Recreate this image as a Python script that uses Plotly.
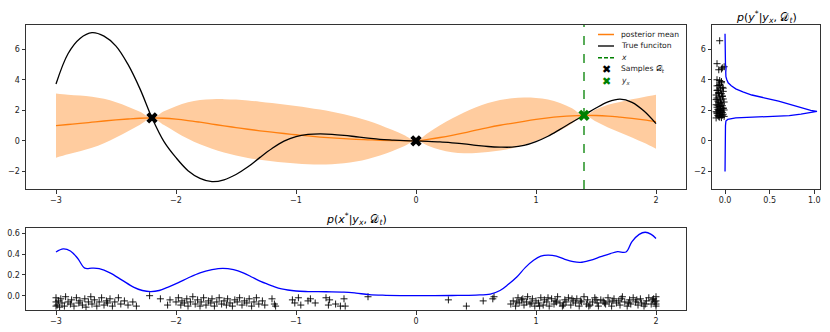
import plotly.graph_objects as go

# ---- main panel: GP posterior vs true function ----
x_grid = [-3.0, -2.9, -2.8, -2.7, -2.6, -2.5, -2.4, -2.3, -2.2, -2.1,
          -2.0, -1.9, -1.8, -1.7, -1.6, -1.5, -1.4, -1.3, -1.2, -1.1,
          -1.0, -0.9, -0.8, -0.7, -0.6, -0.5, -0.4, -0.3, -0.2, -0.1,
          0.0, 0.1, 0.2, 0.3, 0.4, 0.5, 0.6, 0.7, 0.8, 0.9,
          1.0, 1.1, 1.2, 1.3, 1.4, 1.5, 1.6, 1.7, 1.8, 1.9, 2.0]
true_fn = [3.72, 5.7, 6.7, 7.08, 6.85, 6.2, 5.0, 3.4, 1.5, -0.05,
           -1.1, -1.95, -2.45, -2.67, -2.55, -2.2, -1.7, -1.08, -0.5, -0.02,
           0.28, 0.42, 0.46, 0.43, 0.36, 0.27, 0.18, 0.1, 0.05, 0.01,
           0.0, -0.03, -0.07, -0.13, -0.2, -0.29, -0.37, -0.41, -0.41, -0.3,
           -0.05, 0.3, 0.75, 1.22, 1.68, 2.15, 2.55, 2.73, 2.52, 1.95, 1.13]
post_mean = [1.0, 1.07, 1.14, 1.22, 1.3, 1.37, 1.43, 1.48, 1.5, 1.48,
             1.42, 1.33, 1.22, 1.1, 0.98, 0.87, 0.76, 0.66, 0.57, 0.48,
             0.4, 0.32, 0.25, 0.19, 0.14, 0.1, 0.07, 0.04, 0.02, 0.01,
             0.0, 0.1, 0.22, 0.36, 0.52, 0.7, 0.87, 1.02, 1.15, 1.28,
             1.4, 1.5, 1.58, 1.64, 1.67, 1.66, 1.62, 1.55, 1.47, 1.37, 1.25]
post_std = [2.1, 1.95, 1.82, 1.67, 1.45, 1.15, 0.8, 0.42, 0.0, 0.45,
            0.85, 1.2, 1.45, 1.62, 1.75, 1.83, 1.88, 1.9, 1.9, 1.9,
            1.88, 1.85, 1.8, 1.72, 1.6, 1.45, 1.25, 1.0, 0.7, 0.37,
            0.0, 0.42, 0.8, 1.1, 1.33, 1.5, 1.6, 1.65, 1.63, 1.55,
            1.4, 1.2, 0.9, 0.5, 0.0, 0.4, 0.75, 1.0, 1.25, 1.5, 1.77]
samples_x = [-2.2, 0.0]
samples_y = [1.5, 0.0]
x_query = 1.4
y_query = 1.67

# ---- right panel: p(y*|y_x, D_t) ----
ystar_grid = [-2.0, -1.0, 0.0, 1.0, 1.3, 1.4, 1.5, 1.55, 1.6, 1.65, 1.75, 1.85, 1.93,
              2.0, 2.2, 2.4, 2.6, 2.8, 3.0, 3.2, 3.4, 3.6, 3.8, 4.0, 4.2, 4.5,
              4.8, 5.0, 6.0, 7.0]
ystar_density = [0.0, 0.0, 0.0, 0.005, 0.01, 0.03, 0.12, 0.4, 0.62, 0.72, 0.85, 0.96, 1.03,
                 0.96, 0.84, 0.73, 0.6, 0.45, 0.3, 0.2, 0.12, 0.07, 0.035, 0.02, 0.01, 0.008,
                 0.012, 0.005, 0.0, 0.0]
ystar_samples = [(-0.06, 6.55), (-0.09, 5.05), (-0.07, 4.65), (-0.04, 4.7), (-0.01, 4.85),
                 (-0.03, 4.78), (-0.09, 4.0), (-0.04, 3.88), (-0.06, 3.95),
                 (-0.10, 1.50), (-0.04, 1.52), (-0.07, 1.58), (-0.01, 1.6), (-0.08, 1.65),
                 (-0.05, 1.7), (-0.02, 1.74), (-0.09, 1.78), (-0.06, 1.82), (-0.03, 1.86),
                 (-0.10, 1.9), (-0.04, 1.94), (-0.07, 1.98), (-0.01, 2.02), (-0.08, 2.06),
                 (-0.05, 2.1), (-0.02, 2.15), (-0.09, 2.2), (-0.06, 2.25), (-0.03, 2.3),
                 (-0.10, 2.36), (-0.04, 2.42), (-0.07, 2.48), (-0.01, 2.54), (-0.08, 2.6),
                 (-0.05, 2.67), (-0.02, 2.74), (-0.09, 2.8), (-0.06, 2.87), (-0.03, 2.94),
                 (-0.10, 3.0), (-0.04, 3.08), (-0.07, 3.16), (-0.02, 3.24), (-0.08, 3.32),
                 (-0.05, 3.4), (-0.03, 3.5), (-0.09, 3.6), (-0.06, 3.7), (-0.04, 3.8),
                 (-0.06, 1.55), (-0.03, 1.68), (-0.09, 1.88), (-0.05, 2.0), (-0.02, 2.12),
                 (-0.08, 2.33), (-0.05, 2.52), (-0.10, 2.7), (-0.03, 2.9), (-0.07, 3.1),
                 (-0.09, 3.3), (-0.02, 3.45), (-0.07, 3.62)]

# ---- bottom panel: p(x*|y_x, D_t) ----
xstar_grid = [-3.0, -2.94, -2.88, -2.82, -2.76, -2.7, -2.64, -2.55, -2.45, -2.35,
              -2.28, -2.21, -2.14, -2.07, -1.98, -1.9, -1.8, -1.7, -1.61, -1.52,
              -1.44, -1.36, -1.29, -1.2, -1.12, -1.0, -0.9, -0.75, -0.6, -0.5,
              -0.39, -0.25, 0.0, 0.3, 0.5, 0.62, 0.7, 0.77, 0.84, 0.91,
              0.98, 1.04, 1.1, 1.17, 1.24, 1.31, 1.37, 1.45, 1.54, 1.62,
              1.68, 1.75, 1.8, 1.86, 1.91, 1.96, 2.0]
xstar_density = [0.42, 0.45, 0.43, 0.36, 0.265, 0.265, 0.26, 0.22, 0.15, 0.08,
                 0.05, 0.04, 0.05, 0.08, 0.125, 0.17, 0.22, 0.25, 0.263, 0.25,
                 0.22, 0.175, 0.135, 0.095, 0.065, 0.045, 0.04, 0.038, 0.035, 0.025,
                 0.01, 0.004, 0.0, 0.002, 0.006, 0.016, 0.05, 0.11, 0.18, 0.27,
                 0.34, 0.38, 0.39, 0.38, 0.35, 0.327, 0.32, 0.34, 0.375, 0.405,
                 0.423, 0.42, 0.52, 0.59, 0.61, 0.59, 0.55]
xstar_samples = [
    (-3.0, -0.02), (-3.0, -0.06), (-3.0, -0.1), (-2.99, -0.09), (-2.98, -0.05), (-2.97, -0.11),
    (-2.96, -0.03), (-2.95, -0.07), (-2.93, -0.10), (-2.92, -0.01), (-2.9, -0.06),
    (-2.88, -0.08), (-2.87, -0.04), (-2.85, -0.10), (-2.83, -0.02), (-2.81, -0.07),
    (-2.8, -0.05), (-2.78, -0.09), (-2.76, -0.03), (-2.75, -0.11), (-2.73, -0.06),
    (-2.71, -0.01), (-2.7, -0.08), (-2.68, -0.04), (-2.66, -0.10), (-2.64, -0.06),
    (-2.62, -0.02), (-2.6, -0.09), (-2.58, -0.05), (-2.57, -0.07), (-2.55, -0.03),
    (-2.53, -0.10), (-2.51, -0.06), (-2.48, -0.02), (-2.46, -0.08), (-2.43, -0.05),
    (-2.4, -0.09), (-2.36, -0.06), (-2.33, -0.1), (-2.22, -0.0), (-2.13, -0.03),
    (-2.07, -0.09), (-2.05, -0.04),
    (-2.0, -0.06), (-1.98, -0.02), (-1.96, -0.09), (-1.95, -0.05), (-1.93, -0.07),
    (-1.91, -0.03), (-1.9, -0.1), (-1.88, -0.06), (-1.86, -0.01), (-1.84, -0.08),
    (-1.82, -0.04), (-1.8, -0.1), (-1.79, -0.06), (-1.77, -0.02), (-1.75, -0.09),
    (-1.73, -0.05), (-1.71, -0.07), (-1.7, -0.03), (-1.68, -0.1), (-1.66, -0.06),
    (-1.64, -0.02), (-1.62, -0.08), (-1.6, -0.05), (-1.58, -0.09), (-1.57, -0.03),
    (-1.55, -0.07), (-1.53, -0.1), (-1.51, -0.04), (-1.49, -0.06), (-1.47, -0.02),
    (-1.45, -0.09), (-1.43, -0.05), (-1.41, -0.07), (-1.39, -0.03), (-1.37, -0.1),
    (-1.35, -0.06), (-1.33, -0.02), (-1.31, -0.08), (-1.28, -0.05), (-1.26, -0.09),
    (-1.2, -0.03), (-1.18, -0.08), (-1.17, -0.1), (-1.03, -0.04), (-1.01, -0.07),
    (-0.98, -0.02), (-0.96, -0.09), (-0.9, -0.05), (-0.88, -0.03), (-0.84, -0.07),
    (-0.75, -0.02), (-0.73, -0.09), (-0.72, -0.04), (-0.67, -0.08), (-0.63, -0.1),
    (-0.6, -0.03), (-0.59, -0.1), (-0.4, -0.01),
    (0.27, -0.04), (0.42, -0.1), (0.56, -0.05), (0.64, -0.03), (0.65, -0.01),
    (0.79, -0.08), (0.81, -0.05), (0.83, -0.1), (0.85, -0.02), (0.86, -0.07),
    (0.88, -0.04), (0.9, -0.09), (0.92, -0.06), (0.93, -0.01), (0.95, -0.08),
    (0.97, -0.03), (0.99, -0.1), (1.0, -0.05), (1.02, -0.07), (1.04, -0.02),
    (1.06, -0.09), (1.07, -0.04), (1.09, -0.06), (1.11, -0.1), (1.13, -0.03),
    (1.15, -0.08), (1.16, -0.05), (1.18, -0.01), (1.2, -0.07), (1.22, -0.1),
    (1.24, -0.04), (1.25, -0.06), (1.27, -0.02), (1.29, -0.09), (1.31, -0.05),
    (1.33, -0.07), (1.34, -0.03), (1.36, -0.1), (1.38, -0.06), (1.4, -0.01),
    (1.42, -0.08), (1.43, -0.04), (1.45, -0.09), (1.47, -0.06), (1.49, -0.02),
    (1.51, -0.07), (1.52, -0.1), (1.54, -0.04), (1.56, -0.05), (1.58, -0.08),
    (1.6, -0.02), (1.61, -0.06), (1.63, -0.1), (1.65, -0.03), (1.67, -0.07),
    (1.69, -0.05), (1.7, -0.09), (1.72, -0.01), (1.74, -0.06), (1.76, -0.1),
    (1.78, -0.04), (1.79, -0.08), (1.81, -0.02), (1.83, -0.06), (1.85, -0.09),
    (1.87, -0.03), (1.88, -0.07), (1.9, -0.1), (1.92, -0.05), (1.94, -0.02),
    (1.96, -0.08), (1.97, -0.04), (1.99, -0.06), (2.0, -0.1), (2.0, -0.01),
    (2.0, -0.05), (2.0, -0.08),
    (0.84, -0.06), (0.89, -0.03), (0.96, -0.07), (1.03, -0.1), (1.1, -0.02),
    (1.17, -0.06), (1.23, -0.09), (1.3, -0.03), (1.37, -0.05), (1.44, -0.1),
    (1.5, -0.04), (1.57, -0.07), (1.64, -0.05), (1.71, -0.03), (1.77, -0.07),
    (1.84, -0.04), (1.91, -0.08), (1.98, -0.03),
]

legend_labels = ["posterior mean", "True funciton", "<i>x</i>",
                 "Samples 𝒟<sub><i>t</i></sub>", "<i>y<sub>x</sub></i>"]

FONT = "DejaVu Sans"
ORANGE = "#ff7f0e"
BAND = "#ffcc9f"
W, H = 830, 332

upper = [m + s for m, s in zip(post_mean, post_std)]
lower = [m - s for m, s in zip(post_mean, post_std)]

fig = go.Figure()

# band
fig.add_trace(go.Scatter(x=x_grid, y=upper, mode="lines", line=dict(width=0, shape="spline"),
                         showlegend=False, hoverinfo="skip", xaxis="x", yaxis="y"))
fig.add_trace(go.Scatter(x=x_grid, y=lower, mode="lines", line=dict(width=0, shape="spline"),
                         fill="tonexty", fillcolor=BAND, showlegend=False, hoverinfo="skip",
                         xaxis="x", yaxis="y"))
fig.add_trace(go.Scatter(x=x_grid, y=post_mean, mode="lines", showlegend=False,
                         line=dict(color=ORANGE, width=1.3, shape="spline"), xaxis="x", yaxis="y"))
fig.add_trace(go.Scatter(x=x_grid, y=true_fn, mode="lines", showlegend=False,
                         line=dict(color="black", width=1.3, shape="spline"), xaxis="x", yaxis="y"))
fig.add_shape(type="line", xref="x", yref="y domain", x0=x_query, x1=x_query, y0=0, y1=1,
              line=dict(color="green", width=1.3, dash="dash"))
fig.add_trace(go.Scatter(x=samples_x, y=samples_y, mode="markers", showlegend=False,
                         marker=dict(symbol="x", size=10, color="black"), xaxis="x", yaxis="y"))
fig.add_trace(go.Scatter(x=[x_query], y=[y_query], mode="markers", showlegend=False,
                         marker=dict(symbol="x", size=10, color="green"), xaxis="x", yaxis="y"))

# right panel
fig.add_trace(go.Scatter(x=[p[0] for p in ystar_samples], y=[p[1] for p in ystar_samples],
                         mode="markers", showlegend=False,
                         marker=dict(symbol="cross-thin", size=5, line=dict(color="black", width=0.9)),
                         xaxis="x2", yaxis="y2"))
fig.add_trace(go.Scatter(x=ystar_density, y=ystar_grid, mode="lines", showlegend=False,
                         line=dict(color="blue", width=1.3), xaxis="x2", yaxis="y2"))

# bottom panel
fig.add_trace(go.Scatter(x=[p[0] for p in xstar_samples], y=[p[1] for p in xstar_samples],
                         mode="markers", showlegend=False,
                         marker=dict(symbol="cross-thin", size=5, line=dict(color="black", width=0.9)),
                         xaxis="x3", yaxis="y3"))
fig.add_trace(go.Scatter(x=xstar_grid, y=xstar_density, mode="lines", showlegend=False,
                         line=dict(color="blue", width=1.3, shape="spline"), xaxis="x3", yaxis="y3"))


def axis_style(**kw):
    d = dict(showline=True, linecolor="#333333", linewidth=1, mirror=True, automargin=False,
             ticks="outside", ticklen=3.5, tickwidth=0.8, tickcolor="#333333",
             showgrid=False, zeroline=False, tickfont=dict(family=FONT, size=8, color="#222222"))
    d.update(kw)
    return d


def px(x):
    return x / W


def py(y):
    return 1 - y / H


# compact matplotlib-style legend
shapes = [dict(type="rect", xref="paper", yref="paper", x0=px(596), x1=px(682), y0=py(90), y1=py(29),
               fillcolor="rgba(255,255,255,0.85)", line=dict(color="#c8c8c8", width=1), layer="above")]
annotations = []
row_y = [34.5, 46, 57.8, 69.5, 81]
handles = [("line", ORANGE, "solid", 1.5), ("line", "#555555", "solid", 2),
           ("line", "green", "4px,2px", 1.5), ("marker", "black", None, None),
           ("marker", "green", None, None)]
for lab, (kind, col, dash, lw), yy in zip(legend_labels, handles, row_y):
    if kind == "line":
        shapes.append(dict(type="line", xref="paper", yref="paper", x0=px(598), x1=px(614),
                           y0=py(yy), y1=py(yy), line=dict(color=col, width=lw, dash=dash), layer="above"))
    else:
        annotations.append(dict(text="✖", xref="paper", yref="paper", x=px(606), y=py(yy),
                                showarrow=False, xanchor="center", yanchor="middle",
                                font=dict(family=FONT, size=11, color=col)))
    annotations.append(dict(text=lab, xref="paper", yref="paper", x=px(619), y=py(yy),
                            showarrow=False, xanchor="left", yanchor="middle",
                            font=dict(family=FONT, size=7.6, color="#222222")))

annotations += [
    dict(text="<i>p</i>(<i>y</i><sup>*</sup>|<i>y<sub>x</sub></i>, 𝒟<sub><i>t</i></sub>)",
         xref="paper", yref="paper", x=px(766), y=py(17), showarrow=False,
         xanchor="center", yanchor="middle", font=dict(family=FONT, size=11, color="black")),
    dict(text="<i>p</i>(<i>x</i><sup>*</sup>|<i>y<sub>x</sub></i>, 𝒟<sub><i>t</i></sub>)",
         xref="paper", yref="paper", x=px(356), y=py(219), showarrow=False,
         xanchor="center", yanchor="middle", font=dict(family=FONT, size=11, color="black")),
]

main_x = [px(26), px(686)]
main_y = [py(189), py(25)]
fig.update_layout(
    width=W, height=H,
    margin=dict(l=0, r=0, t=0, b=0),
    paper_bgcolor="white", plot_bgcolor="white",
    font=dict(family=FONT, size=8, color="#222222"),
    showlegend=False,
    xaxis=axis_style(domain=main_x, range=[-3.25, 2.25], tickvals=[-3, -2, -1, 0, 1, 2], anchor="y"),
    yaxis=axis_style(domain=main_y, range=[-3.15, 7.58], tickvals=[-2, 0, 2, 4, 6], anchor="x"),
    xaxis2=axis_style(domain=[px(712), px(820)], range=[-0.146, 1.064], tickvals=[0, 0.5, 1.0],
                      tickformat=".1f", anchor="y2"),
    yaxis2=axis_style(domain=main_y, range=[-3.15, 7.58], tickvals=[-2, 0, 2, 4, 6], anchor="x2"),
    xaxis3=axis_style(domain=main_x, range=[-3.25, 2.25], tickvals=[-3, -2, -1, 0, 1, 2], anchor="y3"),
    yaxis3=axis_style(domain=[py(310), py(228)], range=[-0.1375, 0.651],
                      tickvals=[0, 0.2, 0.4, 0.6], tickformat=".1f", anchor="x3"),
    shapes=shapes,
    annotations=annotations,
)

# remove the default page margin so the figure sits at the window's top-left corner
fig.write_html("out.html", config={"displayModeBar": False},
               post_script="document.body.style.margin='0';")
